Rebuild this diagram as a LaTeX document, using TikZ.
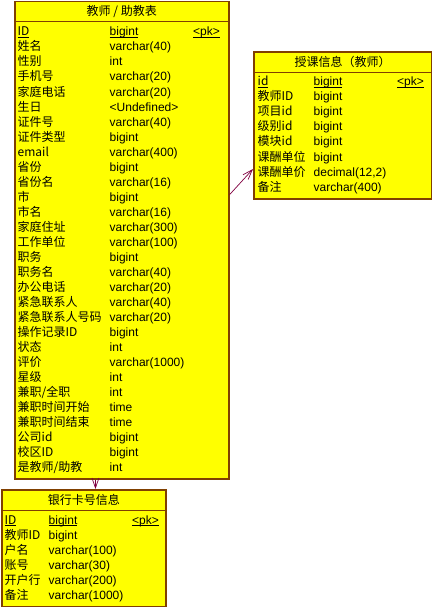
\documentclass[tikz,border=0pt]{standalone}
\usepackage{fontspec}
\setmainfont{Liberation Sans}
\newfontfamily\cjk{Noto Sans CJK SC}
\usepackage{tikz}
\usetikzlibrary{arrows.meta, calc}
\definecolor{tblyellow}{RGB}{255, 255,   0}
\definecolor{tblbrown}{RGB}{128,  64,   0}
\definecolor{refmaroon}{RGB}{128,   0,  64}
\newcommand{\pkey}[1]{\underline{\smash{#1}}}
\tikzset{
	tbl/.style={draw=tblbrown, fill=tblyellow, line width=1.5pt, inner sep=0pt, anchor=north west},
	tblline/.style={draw=tblbrown, line width=1pt},
	hdr/.style={inner sep=0pt, font=\cjk\fontsize{12pt}{14pt}\selectfont},
	colname/.style={anchor=base west, inner sep=0pt, font=\cjk\fontsize{12pt}{14pt}\selectfont},
	coltype/.style={anchor=base west, inner sep=0pt, font=\fontsize{12pt}{14pt}\selectfont},
	colpk/.style={anchor=base east, inner sep=0pt, font=\fontsize{12pt}{14pt}\selectfont},
	ref/.style={draw=refmaroon, line width=0.7pt, -{Straight Barb[length=10pt,width=7pt]}}
}

\begin{document}
\begin{tikzpicture}[x=1pt, y=-1pt]
	\useasboundingbox (0,0) rectangle (432,607);
	% teacher table
	\node[tbl, minimum width=214pt, minimum height=477pt] (tea) at (14,1) {};
	\draw[tblline] ([yshift=-21pt]tea.north west) -- ([yshift=-21pt]tea.north east);
	\node[hdr] (tea-h) at ([yshift=-10.5pt]tea.north) {教师 / 助教表};
	\node[colname] (tea-n0) at (17.5,36) {\pkey{ID}};
	\node[coltype] (tea-y0) at (109.5,36) {\pkey{bigint}};
	\node[colpk] (tea-pk) at (220,36) {\pkey{<pk>}};
	\foreach \n/\t [count=\i] in {姓名/varchar(40), 性别/int, 手机号/varchar(20),
		家庭电话/varchar(20), 生日/<Undefined>, 证件号/varchar(40), 证件类型/bigint,
		email/varchar(400), 省份/bigint, 省份名/varchar(16), 市/bigint, 市名/varchar(16),
		家庭住址/varchar(300), 工作单位/varchar(100), 职务/bigint, 职务名/varchar(40),
		办公电话/varchar(20), 紧急联系人/varchar(40), 紧急联系人号码/varchar(20),
		操作记录ID/bigint, 状态/int, 评价/varchar(1000), 星级/int, {兼职/全职}/int,
		兼职时间开始/time, 兼职时间结束/time, 公司id/bigint, 校区ID/bigint, {是教师/助教}/int}
	{
		\node[colname] (tea-n\i) at (17.5,{36+15*\i}) {\n};
		\node[coltype] (tea-y\i) at (109.5,{36+15*\i}) {\t};
	}
	% lesson table
	\node[tbl, minimum width=177.5pt, minimum height=146.5pt] (les) at (253,51.5) {};
	\draw[tblline] ([yshift=-21pt]les.north west) -- ([yshift=-21pt]les.north east);
	\node[hdr] (les-h) at ([yshift=-10.5pt]les.north) {授课信息（教师）};
	\node[colname] (les-n0) at (257.5,86) {\pkey{id}};
	\node[coltype] (les-y0) at (313.5,86) {\pkey{bigint}};
	\node[colpk] (les-pk) at (424,86) {\pkey{<pk>}};
	\foreach \n/\t [count=\i] in {教师ID/bigint, 项目id/bigint, 级别id/bigint, 模块id/bigint,
		课酬单位/bigint, 课酬单价/{decimal(12,2)}, 备注/varchar(400)}
	{
		\node[colname] (les-n\i) at (257.5,{86+15*\i}) {\n};
		\node[coltype] (les-y\i) at (313.5,{86+15*\i}) {\t};
	}
	% bank card table
	\node[tbl, minimum width=164pt, minimum height=117pt] (bank) at (1,489) {};
	\draw[tblline] ([yshift=-21pt]bank.north west) -- ([yshift=-21pt]bank.north east);
	\node[hdr] (bank-h) at ([yshift=-10.5pt]bank.north) {银行卡号信息};
	\node[colname] (bank-n0) at (4.5,524) {\pkey{ID}};
	\node[coltype] (bank-y0) at (48.5,524) {\pkey{bigint}};
	\node[colpk] (bank-pk) at (159,524) {\pkey{<pk>}};
	\foreach \n/\t [count=\i] in {教师ID/bigint, 户名/varchar(100), 账号/varchar(30),
		开户行/varchar(200), 备注/varchar(1000)}
	{
		\node[colname] (bank-n\i) at (4.5,{524+15*\i}) {\n};
		\node[coltype] (bank-y\i) at (48.5,{524+15*\i}) {\t};
	}
	% references
	\draw[ref] ([yshift=45.5pt]tea.east) -- ([yshift=-43.5pt]les.west);
	\coordinate (ref2) at ($(tea.south west)!0.378!(tea.south east)$);
	\draw[ref] (ref2) -- (ref2 |- bank.north);
\end{tikzpicture}
\end{document}
